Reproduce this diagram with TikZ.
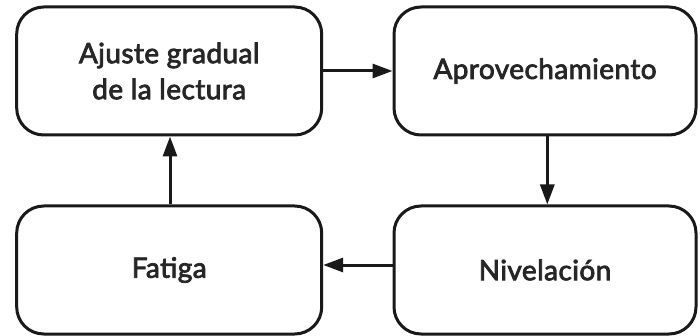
\documentclass[tikz,border=0pt]{standalone}
\usepackage{fontspec}
\newfontfamily\boxfont{Lato}[FakeBold=2.8,LetterSpace=1.5]
\usetikzlibrary{arrows.meta}
\begin{document}
\begin{tikzpicture}[x=1pt,y=-1pt,
  box/.style={draw=black!90,line width=3pt,rounded corners=27pt,minimum width=305pt,minimum height=128pt,inner sep=0pt,align=center,font=\boxfont\fontsize{28}{36}\selectfont,text=black!85},
  conn/.style={line width=3pt,draw=black!90,-{Triangle[length=20pt,width=14pt]}}]
\useasboundingbox (0,0) rectangle (700,336);
\node[box] (a) at (169.2,71) {Ajuste gradual\\de la lectura};
\node[box,minimum width=302pt] (b) at (545,71) {Aprovechamiento};
\node[box] (c) at (169.2,270) {Fatiga};
\node[box,minimum width=302pt] (d) at (545,270) {Nivelación};
\draw[conn] (a.east) -- (b.west);
\draw[conn] (b.south -| 547.3,0) -- (d.north -| 547.3,0);
\draw[conn] (d.west |- 0,265) -- (c.east |- 0,265);
\draw[conn] (c.north -| 170,0) -- (a.south -| 170,0);
\end{tikzpicture}
\end{document}
